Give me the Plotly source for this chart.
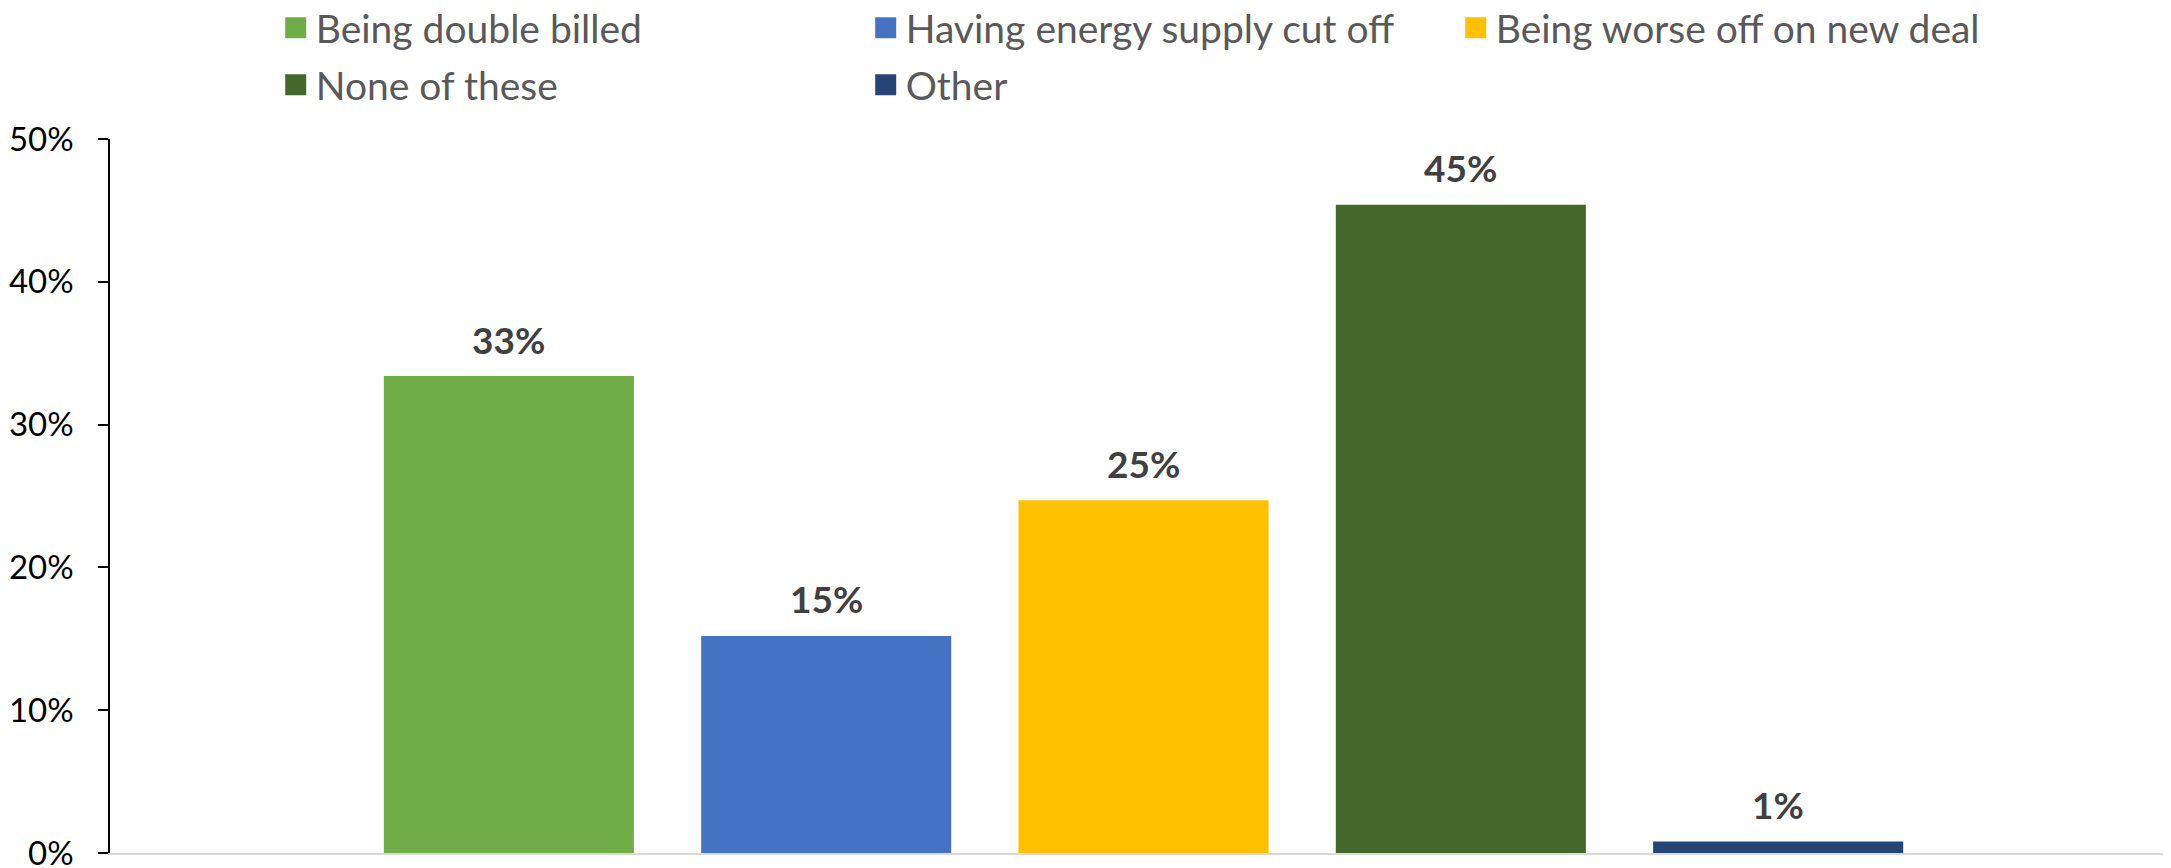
import plotly.graph_objects as go

# ---- data ----
series_names = ["Being double billed", "Having energy supply cut off",
                "Being worse off on new deal", "None of these", "Other"]
series_values = [0.334, 0.152, 0.247, 0.454, 0.008]
series_colors = ["#70AD47", "#4472C4", "#FFC000", "#43682B", "#264478"]
legend_groups = ["legend", "legend", "legend", "legend2", "legend2"]
y_ticks = [0, 0.1, 0.2, 0.3, 0.4, 0.5]

FONT = "Lato, 'Open Sans', sans-serif"

fig = go.Figure()

for name, val, col in zip(series_names, series_values, series_colors):
    fig.add_trace(go.Bar(
        x=[name], y=[val], name=name, marker=dict(color=col, line=dict(width=0)),
        showlegend=False, hoverinfo="skip",
    ))

# legend proxies (larger square swatches)
for name, col, lg in zip(series_names, series_colors, legend_groups):
    fig.add_trace(go.Scatter(
        x=[None], y=[None], mode="markers", name=name, legend=lg,
        marker=dict(symbol="square", size=16, color=col, line=dict(color=col, width=5)),
        showlegend=True,
    ))

for name, val in zip(series_names, series_values):
    fig.add_annotation(
        x=name, y=val, xref="x", yref="y", text=f"<b>{val:.0%}</b>",
        showarrow=False, yanchor="middle", yshift=37,
        font=dict(family=FONT, size=37, color="#404040"),
    )

legend_common = dict(
    orientation="h", xanchor="left", yanchor="middle",
    font=dict(family=FONT, size=39, color="#595959"),
    entrywidth=545, entrywidthmode="pixels",
    bgcolor="rgba(0,0,0,0)", borderwidth=0,
)

fig.update_layout(
    width=2171, height=868,
    paper_bgcolor="white", plot_bgcolor="white",
    margin=dict(l=102, r=8, t=131, b=23, autoexpand=False),
    barmode="overlay", bargap=0.212,
    showlegend=True,
    legend=dict(x=0.0804, y=1.1555, **legend_common),
    legend2=dict(x=0.0804, y=1.0756, **legend_common),
    xaxis=dict(
        range=[-1.257, 5.238], showticklabels=False, showgrid=False,
        zeroline=False, showline=True, linecolor="#d9d9d9", linewidth=2,
        ticks="", fixedrange=True, automargin=False,
    ),
    yaxis=dict(
        range=[0, 0.5], tickvals=y_ticks, tickformat=".0%",
        showgrid=False, zeroline=False, showline=True, linecolor="black",
        linewidth=1.5, ticks="outside", ticklen=10, tickcolor="black", tickwidth=1.5,
        tickfont=dict(family=FONT, size=33, color="#000000"),
        ticklabelstandoff=18, ticklabeloverflow="allow", automargin=False,
    ),
)

fig.write_html("out.html")
